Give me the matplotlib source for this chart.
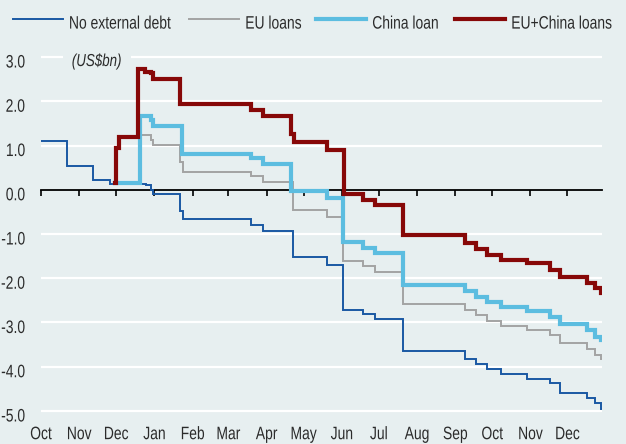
import matplotlib
matplotlib.use('Agg')
import matplotlib.pyplot as plt
import matplotlib.dates as mdates
from matplotlib.patheffects import AbstractPathEffect
from matplotlib.transforms import Affine2D, ScaledTranslation
import pandas as pd

plt.rcParams['font.family'] = ['Liberation Sans', 'DejaVu Sans']

# ---------------- data ----------------
series_names = ["No external debt", "EU loans", "China loan", "EU+China loans"]

no_debt_dates = ["2023-10-01", "2023-10-22", "2023-11-12", "2023-11-26", "2023-12-25",
                 "2023-12-29", "2023-12-31", "2024-01-22", "2024-01-24", "2024-03-19",
                 "2024-03-29", "2024-04-22", "2024-05-20", "2024-06-02", "2024-06-18",
                 "2024-06-28", "2024-07-21", "2024-09-09", "2024-09-18", "2024-09-27",
                 "2024-10-08", "2024-10-29", "2024-11-17", "2024-11-25", "2024-12-17",
                 "2024-12-23", "2024-12-28", "2024-12-29"]
no_debt_vals = [1.11, 0.53, 0.23, 0.14, 0.10,
                0.00, -0.09, -0.49, -0.67, -0.79,
                -0.94, -1.51, -1.69, -2.71, -2.80,
                -2.93, -3.65, -3.82, -3.94, -4.04,
                -4.17, -4.27, -4.37, -4.59, -4.71,
                -4.82, -4.95, -4.95]

eu_dates = ["2023-11-30", "2023-12-20", "2023-12-29", "2023-12-31", "2024-01-22",
            "2024-01-24", "2024-03-19", "2024-03-29", "2024-04-22", "2024-05-20",
            "2024-06-02", "2024-06-18", "2024-06-28", "2024-07-21", "2024-09-09",
            "2024-09-18", "2024-09-27", "2024-10-08", "2024-10-29", "2024-11-17",
            "2024-11-25", "2024-12-17", "2024-12-23", "2024-12-28", "2024-12-29"]
eu_vals = [0.15, 1.23, 1.13, 1.02, 0.62,
           0.40, 0.31, 0.17, -0.45, -0.62,
           -1.60, -1.73, -1.86, -2.58, -2.71,
           -2.84, -2.97, -3.07, -3.16, -3.29,
           -3.47, -3.59, -3.73, -3.82, -3.82]

china_dates = ["2023-11-30", "2023-12-20", "2023-12-29", "2023-12-31", "2024-01-23",
               "2024-03-19", "2024-03-29", "2024-04-21", "2024-05-20", "2024-06-02",
               "2024-06-18", "2024-06-28", "2024-07-21", "2024-09-09", "2024-09-18",
               "2024-09-27", "2024-10-08", "2024-10-29", "2024-11-17", "2024-11-25",
               "2024-12-17", "2024-12-23", "2024-12-28", "2024-12-29"]
china_vals = [0.15, 1.66, 1.57, 1.45, 0.81,
              0.72, 0.59, -0.02, -0.18, -1.18,
              -1.31, -1.43, -2.16, -2.28, -2.42,
              -2.54, -2.65, -2.73, -2.88, -3.04,
              -3.18, -3.32, -3.39, -3.39]

euchina_dates = ["2023-11-30", "2023-12-01", "2023-12-03", "2023-12-19", "2023-12-24",
                 "2023-12-29", "2023-12-31", "2024-01-22", "2024-03-19", "2024-03-29",
                 "2024-04-21", "2024-04-23", "2024-05-20", "2024-06-03", "2024-06-18",
                 "2024-06-28", "2024-07-21", "2024-09-09", "2024-09-18", "2024-09-27",
                 "2024-10-08", "2024-10-29", "2024-11-17", "2024-11-25", "2024-12-17",
                 "2024-12-23", "2024-12-28", "2024-12-29"]
euchina_vals = [0.15, 0.95, 1.20, 2.73, 2.66,
                2.63, 2.51, 1.94, 1.81, 1.66,
                1.27, 1.09, 0.90, -0.10, -0.23,
                -0.35, -1.03, -1.20, -1.35, -1.48,
                -1.58, -1.66, -1.81, -1.98, -2.11,
                -2.22, -2.33, -2.33]

month_tick_dates = ["2023-10-01", "2023-11-01", "2023-12-01", "2024-01-01", "2024-02-01",
                    "2024-03-01", "2024-04-01", "2024-05-01", "2024-06-01", "2024-07-01",
                    "2024-08-01", "2024-09-01", "2024-10-01", "2024-11-01", "2024-12-01"]
month_labels = ["Oct", "Nov", "Dec", "Jan", "Feb", "Mar", "Apr", "May", "Jun", "Jul",
                "Aug", "Sep", "Oct", "Nov", "Dec"]
y_ticks = [-5, -4, -3, -2, -1, 0, 1, 2, 3]
unit_label = "(US$bn)"


# ---- tall-text effect: the reference uses a condensed face; we draw a regular
# ---- face at the matching width and stretch it vertically about its baseline
class Stretch(AbstractPathEffect):
    def __init__(self, sy=1.3, dy=0.0):
        super().__init__()
        self.sy, self.dy = sy, dy

    def draw_path(self, renderer, gc, tpath, affine, rgbFace=None):
        pre = Affine2D().scale(1.0, self.sy)
        post = Affine2D().translate(0, self.dy)
        renderer.draw_path(gc, tpath, pre + affine + post, rgbFace)


# ---------------- styling ----------------
W, H = 626, 444
bg = '#e7eff0'
txt = '#2b2b2b'
fs = 10
colors = ['#1a58a3', '#a3a3a3', '#5cbde0', '#870808']
widths = [1.4, 1.4, 3.0, 3.0]

fig = plt.figure(figsize=(W / 100, H / 100), dpi=100, facecolor=bg)
ax = fig.add_axes([41 / W, 1 - 415.4 / H, (602 - 41) / W, (415.4 - 52.6) / H])
ax.set_facecolor(bg)

all_series = [(no_debt_dates, no_debt_vals), (eu_dates, eu_vals),
              (china_dates, china_vals), (euchina_dates, euchina_vals)]
lines = []
for (d, v), name, c, w in zip(all_series, series_names, colors, widths):
    ln, = ax.plot(pd.to_datetime(d), v, drawstyle='steps-post', color=c, lw=w,
                  label=name, solid_joinstyle='miter', zorder=3)
    lines.append(ln)

ax.set_ylim(-5.1, 3.1)
ax.set_xlim(pd.Timestamp("2023-10-01"), pd.Timestamp("2024-12-29"))

# y axis: white gridlines + labels
ax.set_yticks(y_ticks)
ax.set_yticklabels([f"{t:.1f}" for t in y_ticks])
for t in y_ticks:
    if t != 0:
        ax.axhline(t, color='white', lw=1.6, zorder=1)
ax.tick_params(axis='y', length=0, pad=11.5, labelsize=fs, colors=txt)
for lab in ax.get_yticklabels():
    lab.set_path_effects([Stretch(dy=-5.0)])

for s in ['left', 'right', 'top']:
    ax.spines[s].set_visible(False)
ax.spines['bottom'].set_position(('data', 0))
ax.spines['bottom'].set_color('black')
ax.spines['bottom'].set_linewidth(1.3)
ax.spines['bottom'].set_zorder(2)

# x axis: tick marks on the zero line, month labels at the bottom
ticks = pd.to_datetime(month_tick_dates)
ax.set_xticks(ticks)
ax.tick_params(axis='x', length=4, width=1.2, color='black', direction='out',
               labelbottom=False)

sec = ax.secondary_xaxis('bottom')
sec.set_xticks(mdates.date2num(ticks))
sec.set_xticklabels(month_labels)
sec.tick_params(length=0, pad=9.2, labelsize=fs, colors=txt)
sec.spines['bottom'].set_visible(False)
for lab in sec.get_xticklabels():
    lab.set_path_effects([Stretch()])

# unit label interrupting the top gridline
offset = ScaledTranslation(0, -6 / 100, fig.dpi_scale_trans)
ut = ax.text(pd.Timestamp("2023-10-26"), 3.0, unit_label, style='italic', fontsize=9.6,
             color=txt, va='center', ha='left', transform=ax.transData + offset,
             bbox=dict(facecolor=bg, edgecolor='none', pad=6.3), zorder=2.5)
ut.set_path_effects([Stretch()])

# legend: one entry per box, placed at the reference spacing
legend_left_px = [12.7, 189, 316, 455]
legend_y = 1 - 19.6 / H
for ln, name, xpx in zip(lines, series_names, legend_left_px):
    leg = fig.legend(handles=[ln], labels=[name], loc='center left',
                     bbox_to_anchor=(xpx / W, legend_y), frameon=False, fontsize=fs,
                     handlelength=3.6, handletextpad=0.45, borderpad=0,
                     borderaxespad=0, labelcolor=txt)
    for t in leg.get_texts():
        t.set_path_effects([Stretch(dy=-5.0)])

fig.savefig('out.png', dpi=100, facecolor=bg)
